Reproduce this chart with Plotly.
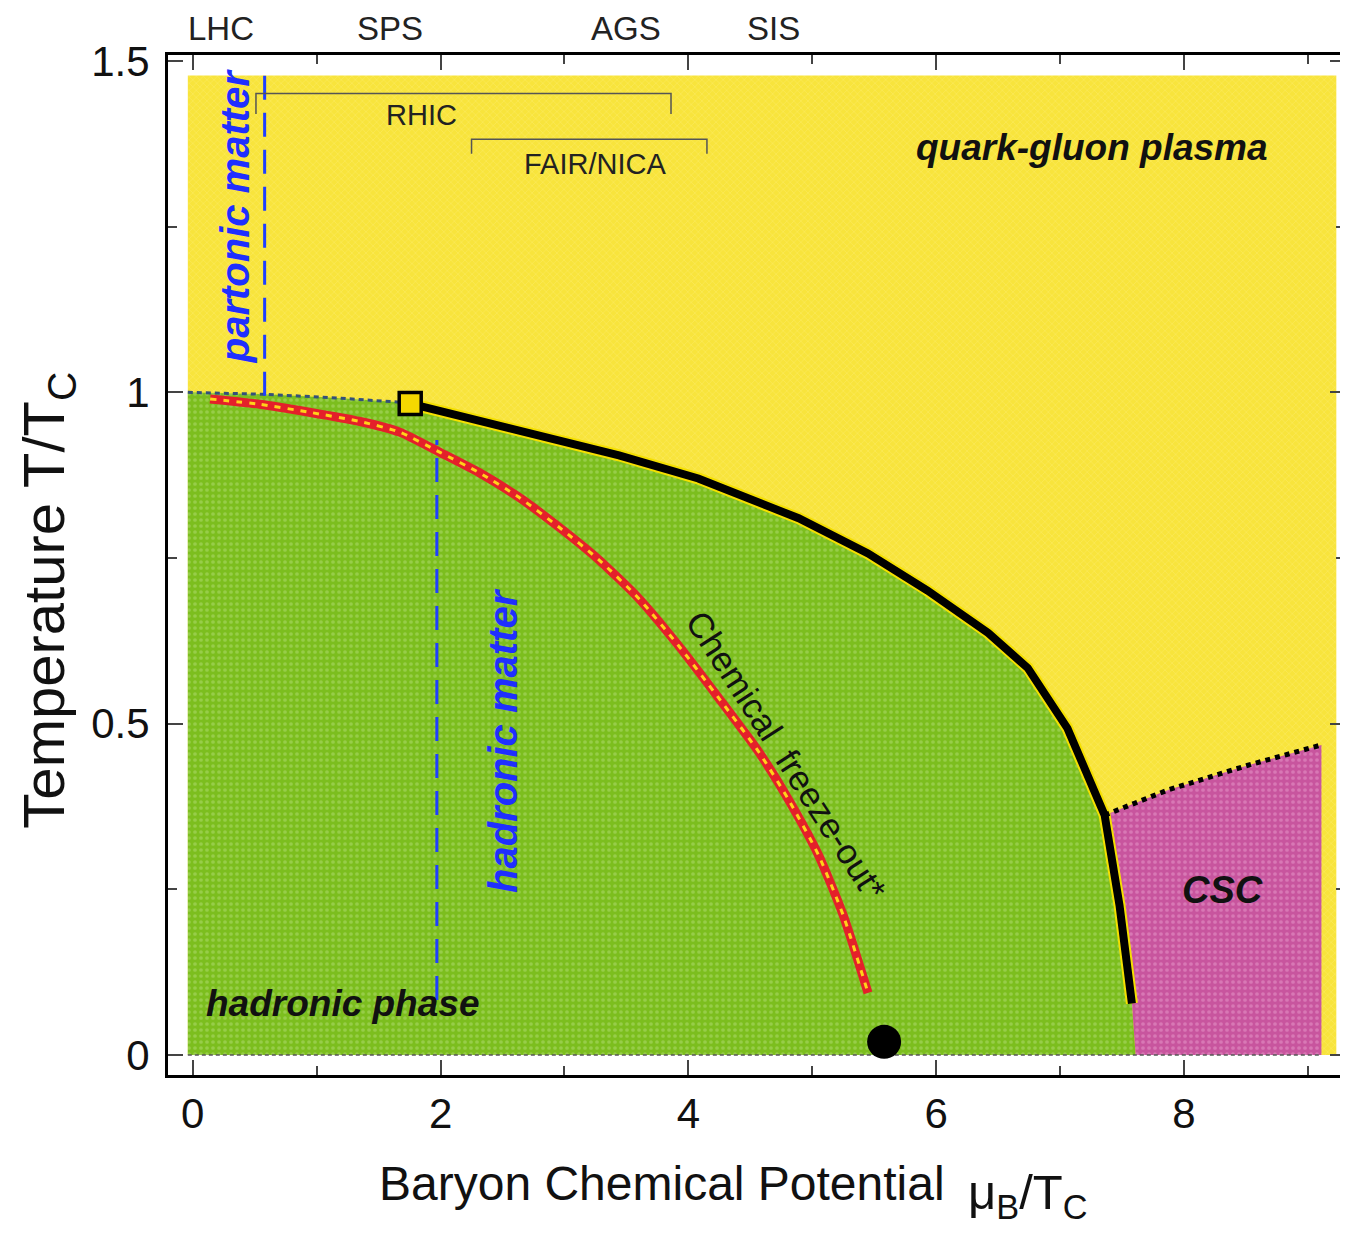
import plotly.graph_objects as go

# ---------------- data (mu_B/T_C , T/T_C) ----------------
crossover_mu = [-0.04, 0.6, 1.2, 1.68]
crossover_T = [1.0, 0.997, 0.991, 0.985]

boundary_mu = [1.755, 2.47, 3.44, 4.08, 4.89, 5.45, 5.93, 6.42, 6.74, 7.06, 7.36, 7.48, 7.58]
boundary_T = [0.983, 0.950, 0.905, 0.870, 0.810, 0.757, 0.701, 0.637, 0.584, 0.493, 0.362, 0.226, 0.078]
boundary_end_mu = 7.61  # green / CSC border reaches T = 0 here

csc_mu = [7.36, 7.87, 8.51, 9.11]
csc_T = [0.362, 0.400, 0.437, 0.468]

freeze_mu = [0.14, 0.54, 0.94, 1.35, 1.67, 2.0, 2.31, 2.63, 2.96, 3.28, 3.6, 3.92, 4.24, 4.57, 4.81, 5.05, 5.25, 5.45]
freeze_T = [0.99, 0.982, 0.97, 0.956, 0.94, 0.909, 0.879, 0.842, 0.796, 0.747, 0.689, 0.618, 0.54, 0.457, 0.385, 0.302, 0.211, 0.094]

critical_point = (1.755, 0.983)
nuclear_point = (5.58, 0.02)

region_mu_min, region_mu_max, region_T_max = -0.04, 9.23, 1.478
csc_mu_max = 9.11

partonic_line_mu, partonic_line_T = 0.58, [0.995, 1.494]
hadronic_line_mu, hadronic_line_T = 1.97, [0.083, 0.928]

facility_names = ["LHC", "SPS", "AGS", "SIS"]
facility_mu = [0.23, 1.59, 3.50, 4.69]

bracket_names = ["RHIC", "FAIR/NICA"]
bracket_mu = [(0.51, 3.86), (2.25, 4.15)]
bracket_T = [(1.451, 1.420), (1.382, 1.360)]
bracket_label_pos = [(1.85, 1.418), (3.25, 1.345)]

x_ticks = [0, 2, 4, 6, 8]
y_ticks = [0, 0.5, 1, 1.5]
y_tick_text = ["0", "0.5", "1", "1.5"]

# ---------------- colours ----------------
YELLOW = "#f8e43c"
GREEN = "#7cbe1e"
PINK = "#c8559e"
FONT = "Liberation Sans, Arial, sans-serif"

fig = go.Figure()

# yellow QGP region
fig.add_trace(go.Scatter(
    x=[region_mu_min, region_mu_max, region_mu_max, region_mu_min, region_mu_min],
    y=[0, 0, region_T_max, region_T_max, 0],
    mode="none", fill="toself", fillcolor=YELLOW,
    fillpattern=dict(shape="x", bgcolor=YELLOW, fgcolor="#fdf07a", size=5, solidity=0.25),
    hoverinfo="skip", showlegend=False))

# green hadronic region
g_x = [region_mu_min] + crossover_mu + boundary_mu + [boundary_end_mu, region_mu_min]
g_y = [0] + crossover_T + boundary_T + [0, 0]
fig.add_trace(go.Scatter(
    x=g_x, y=g_y, mode="none", fill="toself", fillcolor=GREEN,
    fillpattern=dict(shape=".", bgcolor=GREEN, fgcolor="#b2dc74", size=6, solidity=0.3),
    hoverinfo="skip", showlegend=False))

# pink CSC region
i0 = boundary_mu.index(csc_mu[0])
p_x = boundary_mu[i0:] + [boundary_end_mu, csc_mu_max] + csc_mu[::-1]
p_y = boundary_T[i0:] + [0, 0] + csc_T[::-1]
fig.add_trace(go.Scatter(
    x=p_x, y=p_y, mode="none", fill="toself", fillcolor=PINK,
    fillpattern=dict(shape=".", bgcolor=PINK, fgcolor="#e79ccb", size=6, solidity=0.3),
    hoverinfo="skip", showlegend=False))

# T = 0 dashed line
fig.add_trace(go.Scatter(x=[region_mu_min, csc_mu_max], y=[0, 0], mode="lines",
                         line=dict(color="#555555", width=1.5, dash="4px,3px"),
                         hoverinfo="skip", showlegend=False))

# crossover dotted line
fig.add_trace(go.Scatter(x=crossover_mu, y=crossover_T, mode="lines",
                         line=dict(color="#34507a", width=3, dash="5px,4px"),
                         hoverinfo="skip", showlegend=False))

# first-order line: yellow halo + black line
fig.add_trace(go.Scatter(x=boundary_mu, y=boundary_T, mode="lines",
                         line=dict(color="#f5e000", width=12),
                         hoverinfo="skip", showlegend=False))
fig.add_trace(go.Scatter(x=boundary_mu, y=boundary_T, mode="lines",
                         line=dict(color="black", width=8),
                         hoverinfo="skip", showlegend=False))

# CSC dotted boundary
fig.add_trace(go.Scatter(x=csc_mu, y=csc_T, mode="lines",
                         line=dict(color="black", width=5, dash="dot"),
                         hoverinfo="skip", showlegend=False))

# chemical freeze-out curve
fig.add_trace(go.Scatter(x=freeze_mu, y=freeze_T, mode="lines",
                         line=dict(color="#e4202a", width=9, shape="spline", smoothing=0.6),
                         hoverinfo="skip", showlegend=False))
fig.add_trace(go.Scatter(x=freeze_mu, y=freeze_T, mode="lines",
                         line=dict(color="#ffd21a", width=3, dash="6px,7px", shape="spline", smoothing=0.6),
                         hoverinfo="skip", showlegend=False))

# blue dashed lines
fig.add_trace(go.Scatter(x=[partonic_line_mu] * 2, y=partonic_line_T, mode="lines",
                         line=dict(color="#1f3fff", width=3, dash="24px,13px"),
                         hoverinfo="skip", showlegend=False))
fig.add_trace(go.Scatter(x=[hadronic_line_mu] * 2, y=hadronic_line_T, mode="lines",
                         line=dict(color="#1f3fff", width=3, dash="24px,13px"),
                         hoverinfo="skip", showlegend=False))

# brackets
for (a, b), (t0, t1) in zip(bracket_mu, bracket_T):
    fig.add_trace(go.Scatter(x=[a, a, b, b], y=[t1, t0, t0, t1], mode="lines",
                             line=dict(color="#555555", width=1.5),
                             hoverinfo="skip", showlegend=False))

# critical point & nuclear matter point
fig.add_trace(go.Scatter(x=[critical_point[0]], y=[critical_point[1]], mode="markers",
                         marker=dict(symbol="square", size=22, color="#f5d800",
                                     line=dict(color="black", width=3.5)),
                         hoverinfo="skip", showlegend=False))
fig.add_trace(go.Scatter(x=[nuclear_point[0]], y=[nuclear_point[1]], mode="markers",
                         marker=dict(symbol="circle", size=34, color="black"),
                         hoverinfo="skip", showlegend=False))

ann = []
# facility labels above the plot
for name, m in zip(facility_names, facility_mu):
    ann.append(dict(x=m, y=1.026, xref="x", yref="paper", text=name, showarrow=False,
                    font=dict(family=FONT, size=33, color="#222222"),
                    xanchor="center", yanchor="middle"))
for name, (m, t) in zip(bracket_names, bracket_label_pos):
    ann.append(dict(x=m, y=t, text=name, showarrow=False,
                    font=dict(family=FONT, size=29, color="#222222"),
                    xanchor="center", yanchor="middle"))

ann += [
    dict(x=7.26, y=1.37, text="<b><i>quark-gluon plasma</i></b>", showarrow=False,
         font=dict(family=FONT, size=37, color="#111111")),
    dict(x=1.21, y=0.078, text="<b><i>hadronic phase</i></b>", showarrow=False,
         font=dict(family=FONT, size=37, color="#111111")),
    dict(x=8.31, y=0.249, text="<b><i>CSC</i></b>", showarrow=False,
         font=dict(family=FONT, size=38, color="#111111")),
    dict(x=0.34, y=1.267, text="<b><i>partonic matter</i></b>", showarrow=False, textangle=-90,
         font=dict(family=FONT, size=40, color="#1f2fff")),
    dict(x=2.51, y=0.475, text="<b><i>hadronic matter</i></b>", showarrow=False, textangle=-90,
         font=dict(family=FONT, size=40, color="#1f2fff")),
    dict(x=4.79, y=0.452, text="Chemical  freeze-out*", showarrow=False, textangle=57,
         font=dict(family=FONT, size=35, color="#111111")),
    # axis titles
    dict(x=0.420, y=-0.106, xref="paper", yref="paper", text="Baryon Chemical Potential",
         showarrow=False, font=dict(family=FONT, size=48, color="#111111"),
         xanchor="center", yanchor="middle"),
    dict(x=0.730, y=-0.118, xref="paper", yref="paper", text="\u03bc<sub>B</sub>/T<sub>C</sub>",
         showarrow=False, font=dict(family=FONT, size=49, color="#111111"),
         xanchor="center", yanchor="middle"),
    dict(x=-0.102, y=0.466, xref="paper", yref="paper", text="Temperature T/T<sub>C</sub>",
         showarrow=False, textangle=-90, font=dict(family=FONT, size=58, color="#111111"),
         xanchor="center", yanchor="middle"),
]

fig.update_layout(
    width=1340, height=1239,
    margin=dict(l=160, r=0, t=47, b=172),
    paper_bgcolor="white", plot_bgcolor="white",
    showlegend=False,
    annotations=ann,
    font=dict(family=FONT),
)

fig.update_xaxes(
    range=[-0.2, 9.3], showgrid=False, zeroline=False,
    showline=True, linecolor="black", linewidth=3, mirror="allticks",
    ticks="inside", ticklen=15, tickwidth=1.5, tickcolor="#444444",
    tickvals=x_ticks, ticktext=[str(v) for v in x_ticks],
    tickfont=dict(family=FONT, size=42, color="#111111"),
    ticklabelstandoff=0,
    minor=dict(dtick=1, tick0=1, ticks="inside", ticklen=9, tickwidth=1.5, tickcolor="#444444", showgrid=False),
)
fig.update_yaxes(
    range=[-0.030, 1.509], showgrid=False, zeroline=False,
    showline=True, linecolor="black", linewidth=3, mirror="allticks",
    ticks="inside", ticklen=15, tickwidth=1.5, tickcolor="#444444",
    tickvals=y_ticks, ticktext=y_tick_text,
    tickfont=dict(family=FONT, size=42, color="#111111"),
    ticklabelstandoff=7,
    minor=dict(dtick=0.25, tick0=0.25, ticks="inside", ticklen=9, tickwidth=1.5, tickcolor="#444444", showgrid=False),
)

fig.write_html("out.html")
